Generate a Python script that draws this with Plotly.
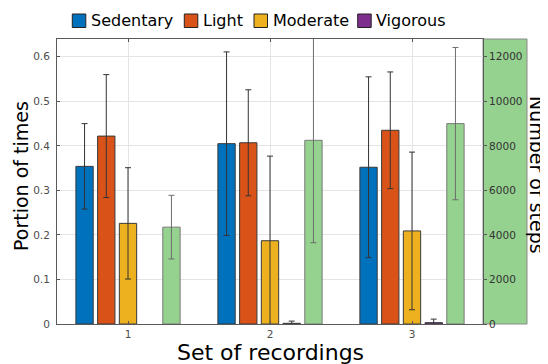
import plotly.graph_objects as go

# ---------------- data ----------------
recordings = ["1", "2", "3"]
x_pos = [1, 2, 3]

activity_names = ["Sedentary", "Light", "Moderate", "Vigorous"]
sedentary = [0.354, 0.405, 0.352]
sedentary_err = [0.096, 0.206, 0.203]
light = [0.422, 0.407, 0.435]
light_err = [0.138, 0.119, 0.131]
moderate = [0.226, 0.187, 0.209]
moderate_err = [0.125, 0.190, 0.177]
vigorous = [None, 0.0015, 0.003]
vigorous_err = [0.0, 0.005, 0.008]

steps_name = "Number of steps"
steps = [4350, 8250, 9000]
steps_err = [1430, 4600, 3420]

left_ticks = [0, 0.1, 0.2, 0.3, 0.4, 0.5, 0.6]
left_ticktext = ["0", "0.1", "0.2", "0.3", "0.4", "0.5", "0.6"]
right_ticks = [0, 2000, 4000, 6000, 8000, 10000, 12000]
right_ticktext = ["0", "2000", "4000", "6000", "8000", "10000", "12000"]

x_title = "Set of recordings"
y_title = "Portion of times"
y2_title = "Number of steps"

# ---------------- style ----------------
FONT = "DejaVu Sans"
colors = ["#0072BD", "#D95319", "#EDB120", "#7E2F8E"]
steps_color = "#95D18F"
OFF = 8  # default page body margin
W, H = 548 - OFF, 364 - OFF
ML, MR, MT, MB = 57 - OFF, 65, 39 - OFF, 40
PW, PH = W - ML - MR, H - MT - MB

def px_x(p):
    # p: window pixel x
    return (p - OFF - ML) / PW

def px_y(p):
    # p: window pixel y
    return (H + OFF - MB - p) / PH

bar_w = 0.122
spacing = 0.153

fig = go.Figure()
series = [sedentary, light, moderate, vigorous]
errors = [sedentary_err, light_err, moderate_err, vigorous_err]
for i, (name, vals, errs, col) in enumerate(zip(activity_names, series, errors, colors)):
    center = (i - 2) * spacing
    fig.add_trace(go.Bar(
        x=x_pos, y=vals, name=name, width=bar_w, offset=center - bar_w / 2,
        marker=dict(color=col, line=dict(color="#3a3a3a", width=1)),
        error_y=dict(type="data", array=errs, visible=True, color="#333333",
                     thickness=1, width=3),
        showlegend=False, yaxis="y",
    ))

center = 2 * spacing
fig.add_trace(go.Bar(
    x=x_pos, y=steps, name=steps_name, width=bar_w, offset=center - bar_w / 2,
    marker=dict(color=steps_color, line=dict(color="#7a7a7a", width=1)),
    error_y=dict(type="data", array=steps_err, visible=True, color="#6e6e6e",
                 thickness=1, width=3),
    showlegend=False, yaxis="y2",
))

shapes = [dict(type="rect", xref="paper", yref="paper",
               x0=1, x1=px_x(527), y0=0, y1=1,
               fillcolor=steps_color, line=dict(color="#8a8a8a", width=1),
               layer="below")]
annotations = []

# custom legend
leg_swatch_x = [72.3, 184.3, 254, 357.7]
for name, col, sx in zip(activity_names, colors, leg_swatch_x):
    shapes.append(dict(type="rect", xref="paper", yref="paper",
                       x0=px_x(sx), x1=px_x(sx + 13.5),
                       y0=px_y(27.5), y1=px_y(14),
                       fillcolor=col, line=dict(color="#222222", width=1)))
    annotations.append(dict(text=name, xref="paper", yref="paper",
                            x=px_x(sx + 16.5), y=px_y(20.8),
                            xanchor="left", yanchor="middle", showarrow=False,
                            font=dict(family=FONT, size=16, color="#000000")))

# axis titles
annotations.append(dict(text=y2_title, xref="paper", yref="paper",
                        x=px_x(537), y=px_y(175), textangle=90,
                        xanchor="center", yanchor="middle", showarrow=False,
                        font=dict(family=FONT, size=19, color="#000000")))
annotations.append(dict(text=y_title, xref="paper", yref="paper",
                        x=px_x(21), y=px_y(176), textangle=-90,
                        xanchor="center", yanchor="middle", showarrow=False,
                        font=dict(family=FONT, size=19, color="#000000")))
annotations.append(dict(text=x_title, xref="paper", yref="paper",
                        x=px_x(270), y=px_y(352),
                        xanchor="center", yanchor="middle", showarrow=False,
                        font=dict(family=FONT, size=22, color="#000000")))

fig.update_layout(
    width=W, height=H,
    margin=dict(l=ML, r=MR, t=MT, b=MB, pad=0, autoexpand=False),
    paper_bgcolor="white", plot_bgcolor="white",
    barmode="overlay",
    font=dict(family=FONT),
    xaxis=dict(range=[0.5, 3.5], tickvals=x_pos, ticktext=recordings,
               ticks="inside", ticklen=3, tickcolor="#555555",
               showgrid=True, gridcolor="#e4e4e4", zeroline=False,
               showline=True, linecolor="#5a5a5a", linewidth=1, mirror="ticks",
               automargin=False,
               tickfont=dict(family=FONT, size=10.5, color="#4d4d4d")),
    yaxis=dict(range=[0, 0.64], tickvals=left_ticks, ticktext=left_ticktext,
               ticks="inside", ticklen=3, tickcolor="#555555",
               showgrid=True, gridcolor="#e4e4e4", zeroline=False,
               showline=True, linecolor="#5a5a5a", linewidth=1, mirror=True,
               automargin=False, ticklabelstandoff=4,
               tickfont=dict(family=FONT, size=10.5, color="#4d4d4d")),
    yaxis2=dict(range=[0, 12800], tickvals=right_ticks, ticktext=right_ticktext,
                overlaying="y", side="right",
                ticks="outside", ticklen=3, tickcolor="#555555",
                showgrid=False, zeroline=False, showline=False,
                automargin=False,
                tickfont=dict(family=FONT, size=10.5, color="#333333")),
    shapes=shapes, annotations=annotations,
)

fig.write_html("out.html")
